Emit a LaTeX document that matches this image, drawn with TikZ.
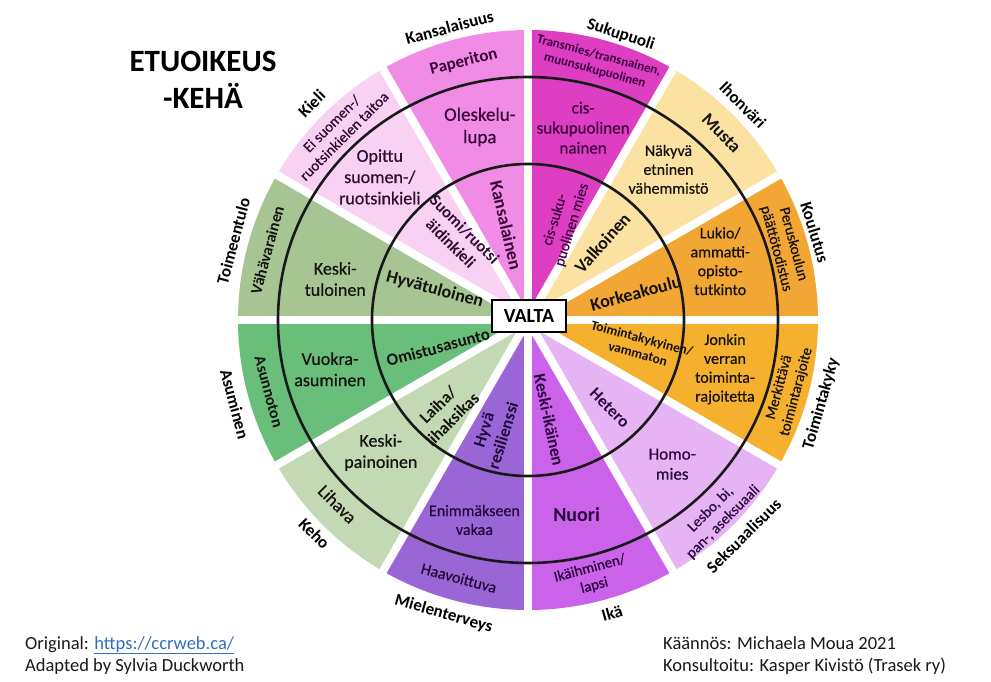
\documentclass[tikz,border=0pt]{standalone}
\usepackage{fontspec}
\setmainfont{Carlito}
\newfontfamily\medfont{Carlito}[FakeBold=0.5]
\usetikzlibrary{positioning}

\definecolor{kansal}{HTML}{F08CE6}
\definecolor{sukupuoli}{HTML}{DE3EC2}
\definecolor{ihonvari}{HTML}{FBE2A2}
\definecolor{koulutus}{HTML}{F2A734}
\definecolor{toiminta}{HTML}{F5B12E}
\definecolor{seksuaal}{HTML}{E6B3F5}
\definecolor{ika}{HTML}{CB62EA}
\definecolor{mielen}{HTML}{9A66D6}
\definecolor{keho}{HTML}{C3D9B3}
\definecolor{asuminen}{HTML}{69BE79}
\definecolor{toimeen}{HTML}{A6C593}
\definecolor{kieli}{HTML}{F9D2F3}

\definecolor{kansalT}{HTML}{3A0838}
\definecolor{sukuT}{HTML}{3E0240}
\definecolor{darkT}{HTML}{15120E}
\definecolor{sekT}{HTML}{2C0A40}
\definecolor{ikaT}{HTML}{2A043C}
\definecolor{mielT}{HTML}{220838}
\definecolor{kieliT}{HTML}{300C34}
\definecolor{linkblue}{HTML}{2F6FBF}

\tikzset{
  fs/.style={font={\medfont\fontsize{#1}{\fpeval{1.18*#1}}\selectfont}},
  bfs/.style={font={\bfseries\fontsize{#1}{\fpeval{1.18*#1}}\selectfont}}}

\begin{document}
\begin{tikzpicture}[x=1pt, y=1pt,
    cat/.style={bfs=17, text=black, inner sep=0pt},
    lbl/.style={align=center, inner sep=0pt},
    foot/.style={font={\fontsize{18.5}{22}\selectfont}, text=black!90, inner sep=0pt, anchor=base west},
    gap/.style={white, line width=8pt},
    ring/.style={line width=2.6pt, black!90}]

    \fill[white, use as bounding box] (-528,-362) rectangle (463,320);

    % sectors, clockwise from the top
    \foreach \a/\col in {90/sukupuoli, 60/ihonvari, 30/koulutus, 0/toiminta,
        -30/seksuaal, -60/ika, -90/mielen, -120/keho, -150/asuminen,
        180/toimeen, 150/kieli, 120/kansal}
      \fill[\col] (0,0) -- (\a:290pt) arc[start angle=\a, end angle=\a-30, radius=290pt] -- cycle;
    \foreach \a in {0,30,...,330}
      \draw[gap] (0,0) -- (\a:300pt);

    \draw[ring] (0,0) ellipse[x radius=250pt, y radius=243pt];
    \draw[ring] (0,0) circle[radius=156pt];

    % category names
    \node[cat, rotate=15] (KA) at (105:303pt) {Kansalaisuus};
    \node[cat, rotate=-18] (SU) at (72:300pt) {Sukupuoli};
    \node[cat, rotate=-45] (IH) at (45:304pt) {Ihonväri};
    \node[cat, rotate=-73] (KO) at (17:300pt) {Koulutus};
    \node[cat, rotate=74] (TO) at (-16:305pt) {Toimintakyky};
    \node[cat, rotate=45] (SE) at (-45:305pt) {Seksuaalisuus};
    \node[cat, rotate=16] (IK) at (-74:305pt) {Ikä};
    \node[cat, rotate=-16] (MI) at (-106:306pt) {Mielenterveys};
    \node[cat, rotate=-45] (KE) at (-135:302pt) {Keho};
    \node[cat, rotate=-75] (AS) at (-164:305pt) {Asuminen};
    \node[cat, rotate=75] (TU) at (165:305pt) {Toimeentulo};
    \node[cat, rotate=45] (KI) at (135:306pt) {Kieli};

    % outer ring
    \node[lbl, bfs=17, text=kansalT, rotate=14] (KAo) at (104:266pt) {Paperiton};
    \node[lbl, bfs=13, text=sukuT, rotate=-15] (SUo) at (75:266pt) {Transmies/transnainen,\\muunsukupuolinen};
    \node[lbl, bfs=18, text=darkT, rotate=-46] (IHo) at (44:269pt) {Musta};
    \node[lbl, fs=15, text=darkT, rotate=-75] (KOo) at (16:267pt) {Peruskoulun\\päättötodistus};
    \node[lbl, fs=15, text=darkT, rotate=75] (TOo) at (-15:269pt) {Merkittävä\\toimintarajoite};
    \node[lbl, fs=15, text=sekT, rotate=45] (SEo) at (-46:272pt) {Lesbo, bi,\\pan-, aseksuaali};
    \node[lbl, fs=15, text=ikaT, rotate=15] (IKo) at (-76:265pt) {Ikäihminen/\\lapsi};
    \node[lbl, fs=16, text=mielT, rotate=-15] (MIo) at (-105:267pt) {Haavoittuva};
    \node[lbl, fs=18, text=darkT, rotate=-45] (KEo) at (-136:265pt) {Lihava};
    \node[lbl, bfs=16, text=darkT, rotate=-75] (ASo) at (-164.5:269pt) {Asunnoton};
    \node[lbl, bfs=16, text=darkT, rotate=75] (TUo) at (165:270pt) {Vähävarainen};
    \node[lbl, fs=15, text=kieliT, rotate=45] (KIo) at (135:269pt) {Ei suomen-/\\ruotsinkielen taitoa};

    % middle ring
    \node[lbl, fs=19, text=kansalT] (KAm) at (104:199pt) {Oleskelu-\\lupa};
    \node[lbl, fs=17, text=sukuT] (SUm) at (74:200pt) {cis-\\sukupuolinen\\nainen};
    \node[lbl, fs=16, text=darkT] (IHm) at (47:206pt) {Näkyvä\\etninen\\vähemmistö};
    \node[lbl, fs=16, text=darkT] (KOm) at (17:201pt) {Lukio/\\ammatti-\\opisto-\\tutkinto};
    \node[lbl, fs=16, text=darkT] (TOm) at (-14:203pt) {Jonkin\\verran\\toiminta-\\rajoitetta};
    \node[lbl, fs=17, text=sekT] (SEm) at (-45:204pt) {Homo-\\mies};
    \node[lbl, bfs=20, text=ikaT] (IKm) at (-76:201pt) {Nuori};
    \node[lbl, fs=16, text=mielT] (MIm) at (-105:207pt) {Enimmäkseen\\vakaa};
    \node[lbl, fs=18, text=darkT] (KEm) at (-138:198pt) {Keski-\\painoinen};
    \node[lbl, fs=18, text=darkT] (ASm) at (-166:204pt) {Vuokra-\\asuminen};
    \node[lbl, fs=18, text=darkT] (TUm) at (168:197pt) {Keski-\\tuloinen};
    \node[lbl, fs=18, text=kieliT] (KIm) at (136:206pt) {Opittu\\suomen-/\\ruotsinkieli};

    % inner ring
    \node[lbl, bfs=18, text=kansalT, rotate=-77] (KAi) at (103:97pt) {Kansalainen};
    \node[lbl, fs=15, text=sukuT, rotate=73] (SUi) at (70:104pt) {cis-suku-\\puolinen mies};
    \node[lbl, bfs=18, text=darkT, rotate=48] (IHi) at (46:107pt) {Valkoinen};
    \node[lbl, bfs=18, text=darkT, rotate=15] (KOi) at (14:111pt) {Korkeakoulu};
    \node[lbl, bfs=13.5, text=darkT, rotate=-15] (TOi) at (-13:115pt) {Toimintakykyinen/\\vammaton};
    \node[lbl, bfs=17, text=sekT, rotate=-45] (SEi) at (-47:120pt) {Hetero};
    \node[lbl, bfs=17, text=ikaT, rotate=-78] (IKi) at (-78:102pt) {Keski-ikäinen};
    \node[lbl, bfs=17, text=mielT, rotate=73] (MIi) at (-107:118pt) {Hyvä\\resilienssi};
    \node[lbl, bfs=17, text=darkT, rotate=45] (KEi) at (-132:124pt) {Laiha/\\lihaksikas};
    \node[lbl, bfs=17, text=darkT, rotate=15] (ASi) at (-163:94pt) {Omistusasunto};
    \node[lbl, bfs=18, text=darkT, rotate=-15] (TUi) at (162:98pt) {Hyvätuloinen};
    \node[lbl, bfs=16.5, text=kieliT, rotate=-45] (KIi) at (130:109pt) {Suomi/ruotsi\\äidinkieli};

    \node[draw=black, line width=1.2pt, fill=white, minimum width=74pt,
      minimum height=32pt, bfs=20] (VALTA) at (1,4) {VALTA};

    \node[lbl, bfs=31, text=black] (TITLE) at (-325,240) {ETUOIKEUS\\-KEHÄ};

    \node[foot] (ORIG) at (-503,-329) {Original: {\color{linkblue}\underline{https://ccrweb.ca/}}};
    \node[foot] (ADAPT) at ([yshift=-22pt]ORIG.base west) {Adapted by Sylvia Duckworth};
    \node[foot] (TRANS) at (135,-329) {Käännös: Michaela Moua 2021};
    \node[foot] (KONS) at ([yshift=-22pt]TRANS.base west) {Konsultoitu: Kasper Kivistö (Trasek ry)};
\end{tikzpicture}
\end{document}
